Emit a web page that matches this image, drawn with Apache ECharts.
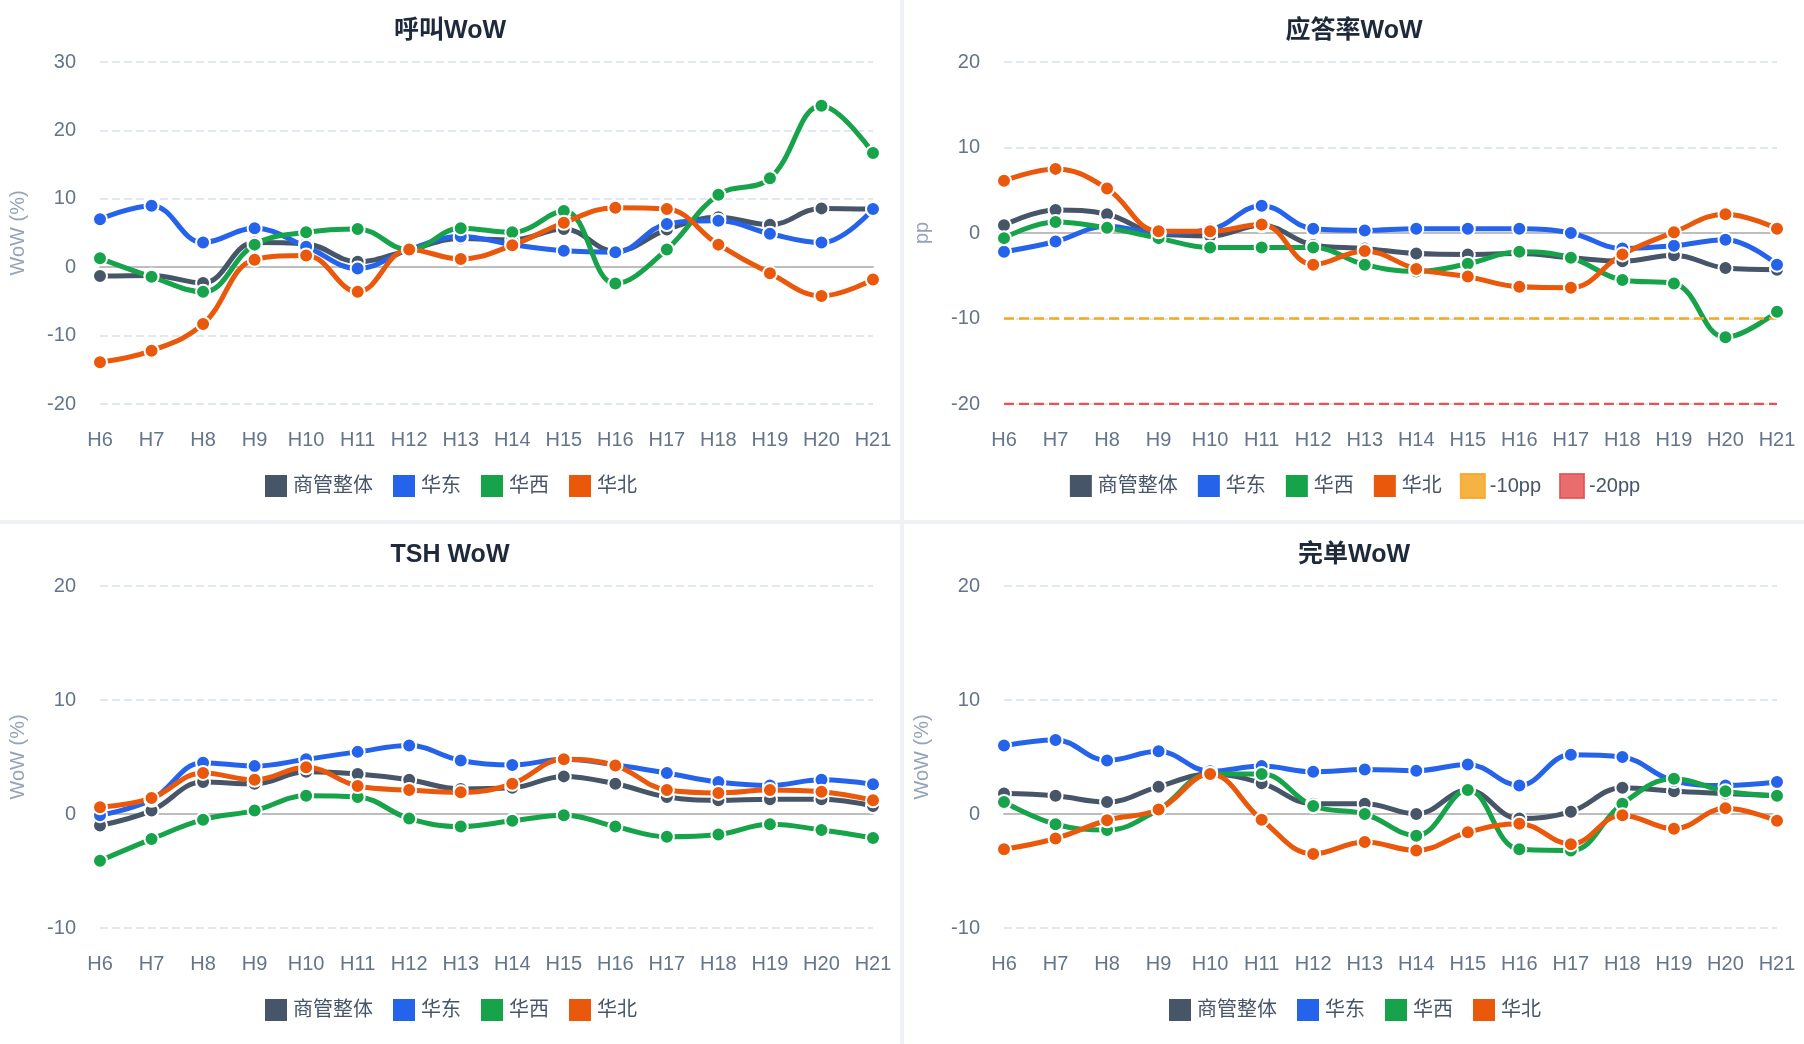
<!DOCTYPE html>
<html>
<head>
<meta charset="utf-8">
<script src="https://cdn.jsdelivr.net/npm/echarts@6/dist/echarts.min.js"></script>
<style>
  html, body { margin: 0; padding: 0; background: #eef2f6; }
  #wrap { width: 1804px; height: 1044px; position: relative; }
  .cell { position: absolute; width: 900px; height: 520px; background: #fff; }
</style>
</head>
<body>
<div id="wrap">
  <div class="cell" id="c1" style="left:0;top:0"></div>
  <div class="cell" id="c2" style="left:904px;top:0"></div>
  <div class="cell" id="c3" style="left:0;top:524px"></div>
  <div class="cell" id="c4" style="left:904px;top:524px"></div>
</div>
<script>
var hours = ['H6','H7','H8','H9','H10','H11','H12','H13','H14','H15','H16','H17','H18','H19','H20','H21'];
var names = ['商管整体','华东','华西','华北'];
var colors = ['#475569','#2563eb','#16a34a','#ea580c'];

// 呼叫WoW
var callAll   = [-1.3,-1.2,-2.3,3.6,3.4,0.8,2.5,4.2,4.0,5.6,2.3,5.5,7.3,6.2,8.6,8.5];
var callEast  = [7.0,9.0,3.6,5.7,3.0,-0.2,2.6,4.5,3.3,2.4,2.2,6.3,6.8,4.9,3.6,8.5];
var callWest  = [1.3,-1.4,-3.6,3.3,5.1,5.6,2.5,5.7,5.1,8.2,-2.4,2.6,10.6,13.0,23.6,16.7];
var callNorth = [-13.9,-12.2,-8.3,1.1,1.7,-3.6,2.6,1.2,3.2,6.5,8.7,8.5,3.3,-0.9,-4.2,-1.8];

// 应答率WoW (pp)
var ansAll   = [0.9,2.7,2.2,-0.1,-0.35,0.9,-1.4,-1.8,-2.4,-2.5,-2.4,-2.9,-3.3,-2.6,-4.1,-4.3];
var ansEast  = [-2.2,-1.0,0.8,0,0.4,3.2,0.5,0.3,0.5,0.5,0.5,0,-1.8,-1.5,-0.8,-3.7];
var ansWest  = [-0.6,1.3,0.6,-0.6,-1.7,-1.7,-1.7,-3.7,-4.5,-3.6,-2.2,-2.9,-5.5,-5.9,-12.2,-9.2];
var ansNorth = [6.1,7.5,5.2,0.2,0.2,1.0,-3.7,-2.1,-4.2,-5.1,-6.3,-6.4,-2.5,0.1,2.2,0.5];
var warnLines = [-10, -20];

// TSH WoW
var tshAll   = [-1.0,0.3,2.8,2.65,3.7,3.5,3.0,2.2,2.3,3.3,2.65,1.5,1.2,1.3,1.3,0.7];
var tshEast  = [-0.1,1.25,4.5,4.2,4.8,5.45,6.0,4.7,4.3,4.8,4.3,3.6,2.8,2.5,3.0,2.6];
var tshWest  = [-4.1,-2.2,-0.5,0.3,1.6,1.5,-0.4,-1.1,-0.6,-0.1,-1.1,-2.0,-1.8,-0.9,-1.4,-2.1];
var tshNorth = [0.6,1.4,3.6,3.0,4.1,2.45,2.1,1.9,2.65,4.8,4.25,2.1,1.85,2.1,1.95,1.2];

// 完单WoW
var doneAll   = [1.8,1.6,1.05,2.4,3.5,2.7,0.9,0.9,0,2.1,-0.4,0.2,2.3,2.0,1.8,1.6];
var doneEast  = [6.0,6.5,4.7,5.5,3.75,4.2,3.7,3.9,3.8,4.35,2.5,5.2,5.0,2.9,2.5,2.8];
var doneWest  = [1.05,-0.9,-1.4,0.4,3.5,3.5,0.7,0,-1.9,2.1,-3.1,-3.2,0.9,3.1,2.0,1.6];
var doneNorth = [-3.1,-2.15,-0.55,0.4,3.5,-0.5,-3.5,-2.45,-3.2,-1.6,-0.85,-2.65,-0.1,-1.3,0.5,-0.6];

var font = '"Liberation Sans", "Noto Sans CJK SC", sans-serif';

function lineSeries(name, data, color) {
  return {
    name: name, type: 'line', data: data, smooth: 0.4,
    symbol: 'circle', symbolSize: 14,
    lineStyle: { width: 5, color: color },
    itemStyle: { color: color, borderColor: '#fff', borderWidth: 2 }
  };
}

function flatLine(name, v, color) {
  return {
    name: name, type: 'line', data: hours.map(function() { return v; }),
    symbol: 'none', silent: true,
    lineStyle: { width: 2.5, type: 'dashed', color: color },
    itemStyle: { color: color, opacity: 0.85, borderColor: color, borderType: 'dashed', borderWidth: 2 }
  };
}

function makeChart(id, title, yName, min, max, series, legendData) {
  var chart = echarts.init(document.getElementById(id));
  chart.setOption({
    animation: false,
    textStyle: { fontFamily: font },
    title: { text: title, left: 'center', top: 14,
      textStyle: { fontSize: 25, fontWeight: 'bold', color: '#1e293b', fontFamily: font } },
    legend: { data: legendData, icon: 'rect', bottom: 16, itemWidth: 24, itemHeight: 24, itemGap: 18,
      textStyle: { fontSize: 20, color: '#475569' } },
    grid: { left: 99, right: 27, top: 62, bottom: 116 },
    xAxis: { type: 'category', data: hours, boundaryGap: false,
      axisLine: { lineStyle: { color: '#bdbdbd', width: 2 } },
      axisTick: { show: false },
      axisLabel: { fontSize: 20, color: '#64748b', margin: 26 } },
    yAxis: { type: 'value', min: min, max: max, interval: 10,
      name: yName, nameLocation: 'middle', nameGap: 72,
      nameTextStyle: { fontSize: 20, color: '#94a3b8' },
      axisLabel: { fontSize: 20, color: '#64748b', margin: 24 },
      splitLine: { lineStyle: { type: 'dashed', color: '#e2e8f0', width: 2 } } },
    series: series
  });
}

makeChart('c1', '呼叫WoW', 'WoW (%)', -20, 30, [
  lineSeries(names[0], callAll, colors[0]), lineSeries(names[1], callEast, colors[1]),
  lineSeries(names[2], callWest, colors[2]), lineSeries(names[3], callNorth, colors[3])
], names);

makeChart('c2', '应答率WoW', 'pp', -20, 20, [
  lineSeries(names[0], ansAll, colors[0]), lineSeries(names[1], ansEast, colors[1]),
  lineSeries(names[2], ansWest, colors[2]), lineSeries(names[3], ansNorth, colors[3]),
  flatLine('-10pp', warnLines[0], '#f5a623'), flatLine('-20pp', warnLines[1], '#e55353')
], names.concat(['-10pp', '-20pp']));

makeChart('c3', 'TSH WoW', 'WoW (%)', -10, 20, [
  lineSeries(names[0], tshAll, colors[0]), lineSeries(names[1], tshEast, colors[1]),
  lineSeries(names[2], tshWest, colors[2]), lineSeries(names[3], tshNorth, colors[3])
], names);

makeChart('c4', '完单WoW', 'WoW (%)', -10, 20, [
  lineSeries(names[0], doneAll, colors[0]), lineSeries(names[1], doneEast, colors[1]),
  lineSeries(names[2], doneWest, colors[2]), lineSeries(names[3], doneNorth, colors[3])
], names);
</script>
</body>
</html>
